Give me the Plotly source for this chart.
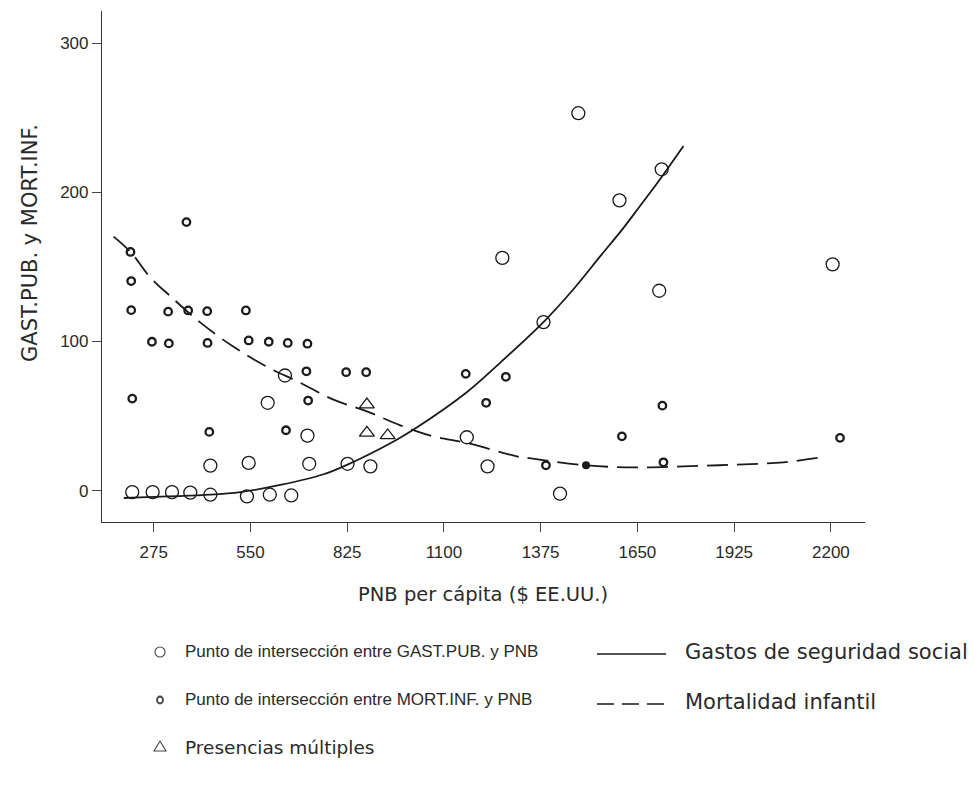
import plotly.graph_objects as go

# ---- data ----
x_ticks = [275, 550, 825, 1100, 1375, 1650, 1925, 2200]
y_ticks = [0, 100, 200, 300]

# GAST.PUB. vs PNB (large open circles)
gast_x = [214, 272, 327, 379, 436, 540, 605, 666, 436, 545, 717, 826, 891, 712, 599, 648,
          1165, 1224, 1383, 1266, 1482, 1719, 1599, 1712, 2205, 1430]
gast_y = [-1, -1, -1, -1.3, -2.7, -3.8, -2.7, -3.2, 16.8, 18.6, 18, 18, 16.3, 36.9, 58.9, 77.2,
          35.8, 16.3, 113, 156, 253, 215.4, 194.6, 134, 151.7, -2]

# MORT.INF. vs PNB (small bold circles)
mort_x = [209, 211, 211, 214, 270, 318, 316, 373, 427, 428, 433, 537, 545, 602, 656, 712,
          709, 714, 651, 822, 879, 1162, 1276, 1220, 1390, 368, 1721, 1606, 1724, 2226]
mort_y = [160, 140.5, 121, 61.7, 99.8, 98.7, 120, 120.8, 120.3, 99, 39.4, 120.8, 100.7, 99.8, 99, 98.5,
          80, 60.4, 40.5, 79.4, 79.4, 78.3, 76.3, 58.9, 17, 180, 57, 36.4, 19, 35.4]

# filled point
mort_fill_x = [1504]
mort_fill_y = [17]

# multiple presences (triangles)
tri_x = [881, 881, 940]
tri_y = [57.7, 38.7, 37]

# trend: Gastos de seguridad social (solid)
ss_x = [190, 436, 521, 638, 758, 826, 957, 1014, 1165, 1261, 1383, 1468, 1544, 1610, 1658, 1706, 1781]
ss_y = [-4.9, -2.7, -1, 4, 11, 17.5, 33, 41, 66, 86, 113, 135, 157, 176, 191, 206, 231]

# trend: Mortalidad infantil (dashed)
mi_x = [161, 209, 266, 322, 408, 502, 597, 692, 786, 881, 976, 1070, 1165, 1307, 1336,
        1504, 1639, 1781, 1923, 2065, 2164]
mi_y = [170.3, 160, 142.8, 130.4, 112.6, 96.4, 83, 72.3, 61, 53.2, 43.8, 36.4, 32, 23, 22,
        17, 15.6, 16.3, 17.4, 19, 22]

FONT = "Liberation Sans, Arial, Helvetica, sans-serif"
WIDE = "DejaVu Sans, Verdana, sans-serif"
INK = "#1a1a1a"
TXT = "#2a2a2a"

fig = go.Figure()

fig.add_trace(go.Scatter(x=ss_x, y=ss_y, mode="lines",
                         line=dict(color=INK, width=1.8, shape="spline", smoothing=0.9),
                         showlegend=False, hoverinfo="skip"))
fig.add_trace(go.Scatter(x=mi_x, y=mi_y, mode="lines",
                         line=dict(color=INK, width=1.8, shape="spline", smoothing=1.0, dash="21px,9px"),
                         showlegend=False, hoverinfo="skip"))

fig.add_trace(go.Scatter(x=gast_x, y=gast_y, mode="markers",
                         marker=dict(symbol="circle-open", size=13, color=INK, line=dict(width=1.3)),
                         showlegend=False))
fig.add_trace(go.Scatter(x=mort_x, y=mort_y, mode="markers",
                         marker=dict(symbol="circle-open", size=7.5, color=INK, line=dict(width=2.3)),
                         showlegend=False))
fig.add_trace(go.Scatter(x=mort_fill_x, y=mort_fill_y, mode="markers",
                         marker=dict(symbol="circle", size=8, color=INK),
                         showlegend=False))
fig.add_trace(go.Scatter(x=tri_x, y=tri_y, mode="markers",
                         marker=dict(symbol="triangle-up-open", size=13, color=INK, line=dict(width=1.3)),
                         showlegend=False))

# ---- layout ----
L, R, T, B = 102, 113, 11, 267
W, H = 978, 789
pw, ph = W - L - R, H - T - B


def px(xp):
    return (xp - L) / pw


def py(yp):
    return (H - B - yp) / ph


fig.update_layout(
    width=W, height=H,
    margin=dict(l=L, r=R, t=T, b=B),
    paper_bgcolor="white", plot_bgcolor="white",
    font=dict(family=FONT, color=TXT),
    showlegend=False,
    xaxis=dict(range=[128, 2297], tickvals=x_ticks, ticktext=[str(v) for v in x_ticks],
               showgrid=False, zeroline=False, showline=True, linecolor="#333", linewidth=1.2,
               ticks="outside", ticklen=9, tickcolor="#444", tickwidth=1, ticklabelstandoff=5,
               tickfont=dict(size=17, color=TXT, family=FONT)),
    yaxis=dict(range=[-21, 321.5], tickvals=y_ticks, ticktext=[str(v) for v in y_ticks],
               showgrid=False, zeroline=False, showline=True, linecolor="#333", linewidth=1.2,
               ticks="outside", ticklen=9, tickcolor="#444", tickwidth=1,
               tickfont=dict(size=17, color=TXT, family=FONT)),
)

annotations = [
    dict(text="GAST.PUB. y MORT.INF.", x=px(30), y=py(243), xref="paper", yref="paper",
         textangle=-90, showarrow=False, font=dict(size=21, color=TXT, family=WIDE),
         xanchor="center", yanchor="middle"),
    dict(text="PNB per cápita ($ EE.UU.)", x=px(483), y=py(594), xref="paper", yref="paper",
         showarrow=False, font=dict(size=19.5, color=TXT, family=WIDE), xanchor="center", yanchor="middle"),
    dict(text="Punto de intersección entre GAST.PUB. y PNB", x=px(183), y=py(652), xref="paper", yref="paper",
         showarrow=False, font=dict(size=17, color=TXT), xanchor="left", yanchor="middle"),
    dict(text="Punto de intersección entre MORT.INF. y PNB", x=px(183), y=py(700), xref="paper", yref="paper",
         showarrow=False, font=dict(size=17, color=TXT), xanchor="left", yanchor="middle"),
    dict(text="Presencias múltiples", x=px(183), y=py(747), xref="paper", yref="paper",
         showarrow=False, font=dict(size=18.5, color=TXT, family=WIDE), xanchor="left", yanchor="middle"),
    dict(text="Gastos de seguridad social", x=px(683), y=py(652), xref="paper", yref="paper",
         showarrow=False, font=dict(size=21, color=TXT, family=WIDE), xanchor="left", yanchor="middle"),
    dict(text="Mortalidad infantil", x=px(683), y=py(702), xref="paper", yref="paper",
         showarrow=False, font=dict(size=21, color=TXT, family=WIDE), xanchor="left", yanchor="middle"),
]
fig.update_layout(annotations=annotations)

shapes = [
    # legend: large circle
    dict(type="circle", xref="paper", yref="paper", xsizemode="pixel", ysizemode="pixel",
         xanchor=px(160), yanchor=py(652), x0=-5, x1=5, y0=-5, y1=5,
         line=dict(color="#444", width=1.1)),
    # legend: small bold circle
    dict(type="circle", xref="paper", yref="paper", xsizemode="pixel", ysizemode="pixel",
         xanchor=px(160), yanchor=py(700), x0=-3, x1=3, y0=-3.5, y1=3.5,
         line=dict(color="#444", width=1.8)),
    # legend: triangle
    dict(type="path", xref="paper", yref="paper", xsizemode="pixel", ysizemode="pixel",
         xanchor=px(160), yanchor=py(747), path="M -6,-4 L 6,-4 L 0,6 Z",
         line=dict(color="#444", width=1.1)),
    # legend: solid line
    dict(type="line", xref="paper", yref="paper", x0=px(597), x1=px(666), y0=py(654), y1=py(654),
         line=dict(color=INK, width=1.6)),
    # legend: dashed line
    dict(type="line", xref="paper", yref="paper", x0=px(597), x1=px(666), y0=py(704), y1=py(704),
         line=dict(color=INK, width=1.6, dash="17px,8px")),
]
fig.update_layout(shapes=shapes)

fig.write_html("out.html")
